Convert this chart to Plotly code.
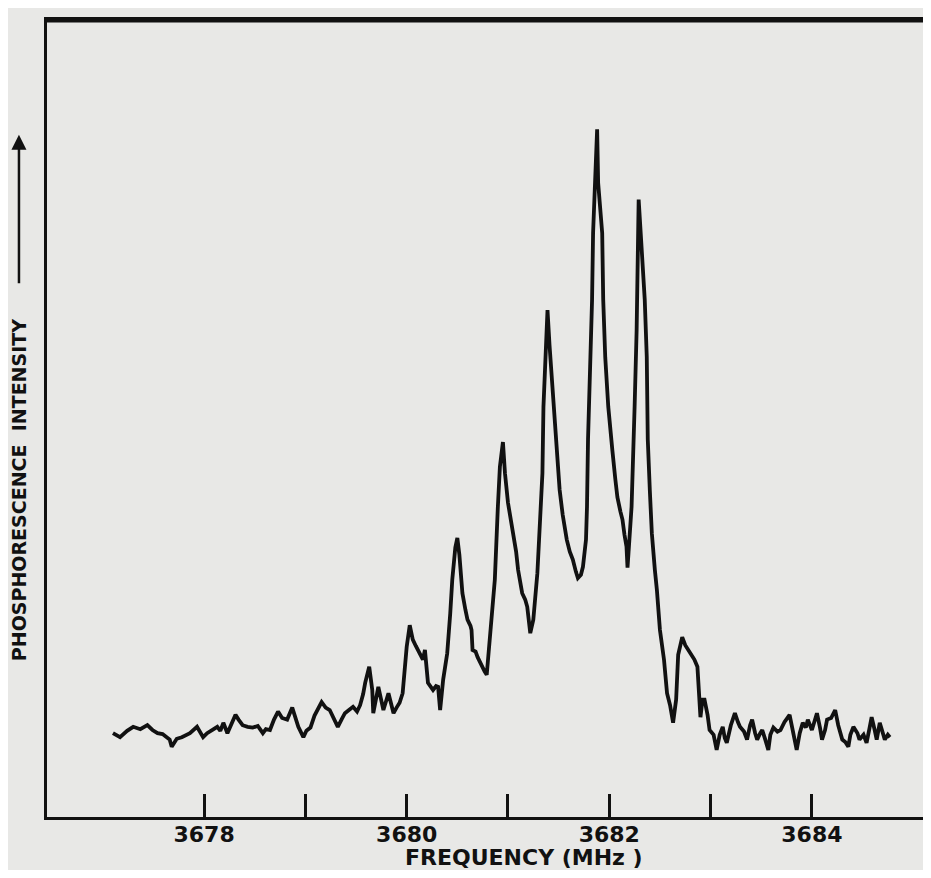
import plotly.graph_objects as go

# Frequency (MHz)
frequency_mhz = [
    3677.10, 3677.17, 3677.24, 3677.30, 3677.37, 3677.44, 3677.49, 3677.54, 3677.59, 3677.66,
    3677.68, 3677.73, 3677.78, 3677.82, 3677.86, 3677.93, 3677.96, 3677.99, 3678.03, 3678.06,
    3678.13, 3678.16, 3678.19, 3678.23, 3678.27, 3678.31, 3678.34, 3678.38, 3678.43, 3678.48,
    3678.53, 3678.58, 3678.61, 3678.65, 3678.69, 3678.73, 3678.77, 3678.82, 3678.87, 3678.90,
    3678.93, 3678.98, 3679.01, 3679.05, 3679.09, 3679.16, 3679.20, 3679.24, 3679.28, 3679.32,
    3679.36, 3679.39, 3679.43, 3679.47, 3679.51, 3679.54, 3679.57, 3679.59, 3679.63, 3679.66,
    3679.67, 3679.70, 3679.72, 3679.77, 3679.80, 3679.82, 3679.85, 3679.87, 3679.90, 3679.93,
    3679.96, 3679.98, 3680.00, 3680.03, 3680.06, 3680.09, 3680.11, 3680.14, 3680.16, 3680.18,
    3680.21, 3680.26, 3680.29, 3680.31, 3680.33, 3680.36, 3680.40, 3680.43, 3680.45, 3680.48,
    3680.50, 3680.52, 3680.55, 3680.58, 3680.60, 3680.63, 3680.64, 3680.65, 3680.68, 3680.70,
    3680.74, 3680.77, 3680.79, 3680.82, 3680.85, 3680.87, 3680.90, 3680.92, 3680.95, 3680.97,
    3681.00, 3681.02, 3681.05, 3681.08, 3681.10, 3681.14, 3681.17, 3681.19, 3681.22, 3681.25,
    3681.29, 3681.32, 3681.34, 3681.35, 3681.37, 3681.39, 3681.41, 3681.44, 3681.48, 3681.51,
    3681.54, 3681.58, 3681.61, 3681.64, 3681.67, 3681.69, 3681.72, 3681.74, 3681.77, 3681.78,
    3681.79, 3681.81, 3681.83, 3681.84, 3681.87, 3681.88, 3681.89, 3681.91, 3681.93, 3681.94,
    3681.96, 3681.99, 3682.01, 3682.03, 3682.06, 3682.08, 3682.11, 3682.13, 3682.15, 3682.17,
    3682.18, 3682.20, 3682.22, 3682.25, 3682.27, 3682.29, 3682.32, 3682.35, 3682.37, 3682.38,
    3682.40, 3682.42, 3682.45, 3682.47, 3682.50, 3682.54, 3682.57, 3682.60, 3682.63, 3682.66,
    3682.68, 3682.72, 3682.75, 3682.78, 3682.80, 3682.84, 3682.87, 3682.90, 3682.92, 3682.94,
    3682.97, 3682.99, 3683.03, 3683.06, 3683.09, 3683.12, 3683.14, 3683.16, 3683.20, 3683.24,
    3683.27, 3683.29, 3683.33, 3683.36, 3683.39, 3683.41, 3683.44, 3683.46, 3683.49, 3683.51,
    3683.54, 3683.57, 3683.59, 3683.62, 3683.66, 3683.69, 3683.73, 3683.78, 3683.82, 3683.85,
    3683.88, 3683.91, 3683.94, 3683.96, 3684.00, 3684.05, 3684.08, 3684.10, 3684.13, 3684.15,
    3684.19, 3684.23, 3684.26, 3684.30, 3684.33, 3684.36, 3684.38, 3684.41, 3684.45, 3684.47,
    3684.51, 3684.54, 3684.57, 3684.59, 3684.62, 3684.64, 3684.67, 3684.69, 3684.72, 3684.75,
    3684.77,
]

# Phosphorescence intensity (arbitrary units)
intensity = [
    11.1, 10.6, 11.4, 11.9, 11.6, 12.1, 11.5, 11.1, 11.0, 10.3,
    9.4, 10.4, 10.6, 10.9, 11.1, 11.9, 11.3, 10.6, 11.1, 11.3,
    11.9, 11.4, 12.4, 11.1, 12.3, 13.4, 12.8, 12.1, 11.9, 11.8,
    12.0, 11.1, 11.6, 11.5, 12.8, 13.8, 13.0, 12.8, 14.3, 13.0,
    11.9, 10.6, 11.4, 11.8, 13.3, 15.0, 14.3, 14.0, 13.0, 11.9,
    12.9, 13.6, 14.0, 14.4, 13.8, 14.6, 16.0, 17.4, 19.4, 16.5,
    13.6, 15.3, 16.9, 14.0, 15.3, 16.1, 14.6, 13.6, 14.3, 14.9,
    16.1, 19.0, 21.9, 24.6, 22.8, 22.0, 21.5, 20.6, 20.3, 21.5,
    17.4, 16.5, 17.0, 16.9, 14.0, 17.8, 21.1, 26.1, 30.3, 34.3,
    35.5, 33.4, 28.6, 26.5, 25.3, 24.5, 24.0, 21.5, 21.3, 20.6,
    19.4, 18.8, 18.4, 22.4, 26.5, 30.3, 39.4, 44.4, 47.5, 43.6,
    39.9, 38.3, 36.5, 33.8, 31.5, 28.6, 27.8, 26.9, 23.6, 25.3,
    31.1, 37.8, 43.6, 51.9, 57.8, 64.0, 59.6, 54.0, 47.8, 41.5,
    38.4, 35.3, 33.8, 32.8, 31.3, 30.5, 30.9, 31.9, 35.3, 39.4,
    47.8, 56.1, 65.3, 73.6, 81.9, 86.6, 79.9, 77.1, 73.6, 65.3,
    58.1, 51.9, 48.4, 46.5, 42.8, 40.6, 38.8, 37.8, 35.9, 34.4,
    31.8, 35.3, 39.4, 51.9, 61.5, 77.8, 71.5, 65.3, 58.1, 47.8,
    41.5, 36.1, 31.5, 29.0, 24.0, 20.3, 16.1, 14.6, 12.4, 15.3,
    20.9, 23.1, 22.1, 21.5, 21.1, 20.3, 19.4, 13.1, 15.3, 15.3,
    13.4, 11.5, 10.9, 9.0, 10.9, 11.9, 10.5, 9.9, 12.1, 13.6,
    12.5, 11.9, 11.3, 10.3, 12.1, 12.8, 11.1, 10.3, 11.1, 11.5,
    10.3, 9.0, 10.9, 11.8, 11.3, 11.5, 12.5, 13.4, 10.9, 9.0,
    11.1, 12.4, 11.8, 12.8, 11.5, 13.6, 11.8, 10.3, 11.5, 12.8,
    13.0, 14.0, 12.1, 10.3, 10.0, 9.4, 10.9, 11.9, 11.1, 10.3,
    10.9, 9.9, 11.8, 13.1, 11.5, 10.3, 12.4, 11.5, 10.3, 10.9,
    10.6,
]

tick_values = [3678, 3679, 3680, 3681, 3682, 3683, 3684]
tick_labels = ["3678", "", "3680", "", "3682", "", "3684"]

x_title = "FREQUENCY (MHz )"
y_title = "PHOSPHORESCENCE  INTENSITY"

FONT = "DejaVu Sans"
INK = "#111111"
BG = "#e8e8e6"

fig = go.Figure()
fig.add_trace(go.Scatter(
    x=frequency_mhz, y=intensity, mode="lines",
    line=dict(color=INK, width=3.8),
    hoverinfo="skip", showlegend=False,
))

fig.update_layout(
    width=915, height=862,
    margin=dict(l=39, r=0, t=12, b=53),
    paper_bgcolor=BG, plot_bgcolor=BG,
    showlegend=False,
    xaxis=dict(
        range=[3676.449, 3685.097],
        tickmode="array", tickvals=tick_values, ticktext=tick_labels,
        ticks="inside", ticklen=23, tickwidth=3, tickcolor=INK,
        showline=True, linecolor=INK, linewidth=3, mirror=True,
        showgrid=False, zeroline=False,
        tickfont=dict(family=FONT, size=22, color=INK, weight="bold"),
        ticklabelstandoff=-4,
    ),
    yaxis=dict(
        range=[0.625, 100.25],
        showticklabels=False, ticks="",
        showline=True, linecolor=INK, linewidth=3, mirror=False,
        showgrid=False, zeroline=False,
    ),
    shapes=[
        dict(type="line", xref="paper", yref="paper", x0=0, x1=1, y0=1, y1=1,
             line=dict(color=INK, width=5), layer="above"),
    ],
    annotations=[
        dict(
            text=x_title, xref="paper", yref="paper",
            x=0.5445, y=-0.0502, xanchor="center", yanchor="middle",
            showarrow=False,
            font=dict(family=FONT, size=22, color=INK, weight="bold"),
        ),
        dict(
            text=y_title, xref="paper", yref="paper",
            x=-0.032, y=0.41, xanchor="center", yanchor="middle",
            textangle=-90, showarrow=False,
            font=dict(family=FONT, size=19, color=INK, weight="bold"),
        ),
        dict(
            text="", xref="paper", yref="paper",
            x=-0.032, y=0.856, ax=0, ay=150,
            showarrow=True, arrowhead=2, arrowsize=1.2, arrowwidth=2.5,
            arrowcolor=INK,
        ),
    ],
)

fig.write_html("out.html")
